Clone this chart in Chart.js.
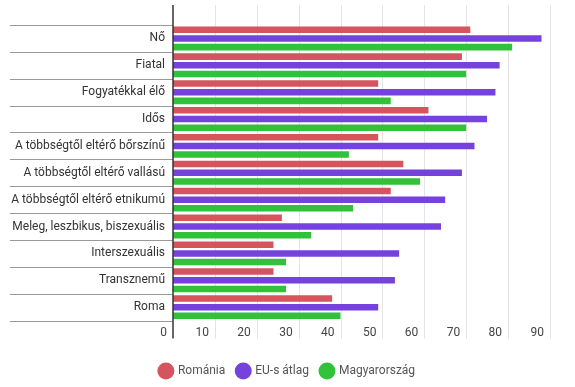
<!DOCTYPE html>
<html>
<head>
<meta charset="utf-8">
<script src="https://cdn.jsdelivr.net/npm/chart.js@4/dist/chart.umd.min.js"></script>
<style>
    html, body { margin: 0; padding: 0; background: #fff; }
    canvas { display: block; }
</style>
</head>
<body>
<canvas id="chart" width="575" height="387"></canvas>
<script>
// adatok
const categories = [
    'Nő', 'Fiatal', 'Fogyatékkal élő', 'Idős', 'A többségtől eltérő bőrszínű',
    'A többségtől eltérő vallású', 'A többségtől eltérő etnikumú',
    'Meleg, leszbikus, biszexuális', 'Interszexuális', 'Transznemű', 'Roma'
];
const romania = [71, 69, 49, 61, 49, 55, 52, 26, 24, 24, 38];
const euAtlag = [88, 78, 77, 75, 72, 69, 65, 64, 54, 53, 49];
const magyarorszag = [81, 70, 52, 70, 42, 59, 43, 33, 27, 27, 40];
const xTicks = [0, 10, 20, 30, 40, 50, 60, 70, 80, 90];

const FONT = 'Roboto, "Noto Sans", sans-serif';

// rácsvonalak, elválasztók és tengelyvonal
const decorPlugin = {
    id: 'decor',
    beforeDatasetsDraw(chart) {
        const { ctx, chartArea, scales: { x, y } } = chart;
        ctx.save();
        ctx.lineWidth = 1;
        ctx.strokeStyle = '#e4e4e4';
        xTicks.forEach(v => {
            if (v === 0) return;
            const px = Math.round(x.getPixelForValue(v)) + 0.5;
            ctx.beginPath();
            ctx.moveTo(px, chartArea.top - 20);
            ctx.lineTo(px, chartArea.bottom + 18);
            ctx.stroke();
        });
        ctx.strokeStyle = '#9a9a9a';
        for (let i = 0; i <= categories.length; i++) {
            const py = Math.round(y.getPixelForValue(i - 0.5)) + 0.5;
            ctx.beginPath();
            ctx.moveTo(10, py);
            ctx.lineTo(chartArea.left, py);
            ctx.stroke();
        }
        ctx.restore();
    },
    afterDatasetsDraw(chart) {
        const { ctx, chartArea } = chart;
        ctx.save();
        ctx.strokeStyle = '#333';
        ctx.lineWidth = 1.5;
        ctx.beginPath();
        ctx.moveTo(chartArea.left, chartArea.top - 20);
        ctx.lineTo(chartArea.left, chartArea.bottom + 18);
        ctx.stroke();
        ctx.restore();
    }
};

new Chart(document.getElementById('chart'), {
    type: 'bar',
    data: {
        labels: categories,
        datasets: [
            { label: 'Románia', data: romania, backgroundColor: '#d6545d' },
            { label: 'EU-s átlag', data: euAtlag, backgroundColor: '#7542de' },
            { label: 'Magyarország', data: magyarorszag, backgroundColor: '#32c23a' }
        ]
    },
    options: {
        indexAxis: 'y',
        responsive: false,
        animation: false,
        devicePixelRatio: 1,
        layout: { padding: { top: 25, left: 0, right: 0, bottom: 0 } },
        datasets: {
            bar: { barPercentage: 0.75, categoryPercentage: 0.97 }
        },
        scales: {
            x: {
                min: 0,
                max: 96,
                afterBuildTicks: axis => {
                    axis.ticks = xTicks.map(v => ({ value: v }));
                },
                afterFit: axis => { axis.height += 8; },
                grid: { display: false, drawTicks: false },
                border: { display: false },
                ticks: {
                    align: 'end',
                    padding: 5,
                    color: '#444',
                    font: { family: FONT, size: 12 },
                    callback: v => v + '  '
                }
            },
            y: {
                afterFit: axis => { axis.width = 173; },
                grid: { display: false, drawTicks: false },
                border: { display: false },
                ticks: {
                    padding: 8,
                    color: '#333',
                    font: { family: FONT, size: 12 }
                }
            }
        },
        plugins: {
            legend: {
                position: 'bottom',
                labels: {
                    usePointStyle: true,
                    pointStyle: 'circle',
                    boxWidth: 12,
                    boxHeight: 12,
                    padding: 12,
                    color: '#555',
                    font: { family: FONT, size: 12 }
                }
            },
            tooltip: { enabled: false }
        }
    },
    plugins: [decorPlugin]
});
</script>
</body>
</html>
